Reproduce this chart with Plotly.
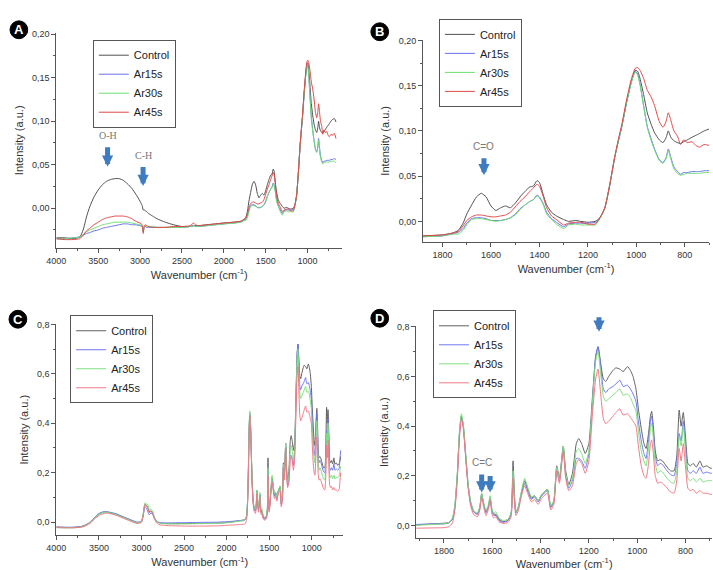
import plotly.graph_objects as go

# ---------------- DATA ----------------
series_names = ["Control", "Ar15s", "Ar30s", "Ar45s"]
colors_ab = ["#505050", "#6a70ee", "#6ede6e", "#e04848"]
colors_cd = ["#606060", "#7078ee", "#7fe07f", "#ef7a88"]

# Panels A/B : wavenumber (cm-1)
wn_ab_hi = [4000, 3900, 3800, 3720, 3680, 3640, 3600, 3550, 3500, 3450,
            3400, 3350, 3300, 3250, 3200, 3150, 3100, 3050, 3000, 2975,
            2962, 2950, 2935, 2920, 2900, 2850, 2800, 2700, 2600, 2500,
            2400, 2360, 2340, 2300, 2200, 2100, 2000]
ctrl_ab_hi = [-0.034, -0.034, -0.035, -0.033, -0.025, -0.010, 0.002, 0.013, 0.021, 0.027,
              0.031, 0.033, 0.034, 0.034, 0.032, 0.028, 0.023, 0.016, 0.008, 0.003,
              -0.002, -0.002, -0.003, -0.004, -0.006, -0.009, -0.012, -0.016, -0.019, -0.021,
              -0.021, -0.020, -0.020, -0.020, -0.019, -0.018, -0.017]
ar15_ab_hi = [-0.035, -0.035, -0.034, -0.033, -0.031, -0.029, -0.028, -0.026, -0.025, -0.023,
              -0.022, -0.021, -0.020, -0.019, -0.018, -0.018, -0.019, -0.019, -0.020, -0.021,
              -0.027, -0.022, -0.021, -0.022, -0.022, -0.022, -0.022, -0.022, -0.022, -0.022,
              -0.021, -0.020, -0.021, -0.021, -0.020, -0.019, -0.018]
ar30_ab_hi = [-0.035, -0.035, -0.034, -0.033, -0.030, -0.027, -0.025, -0.023, -0.021, -0.019,
              -0.018, -0.017, -0.016, -0.016, -0.016, -0.016, -0.017, -0.018, -0.019, -0.020,
              -0.027, -0.021, -0.020, -0.021, -0.021, -0.021, -0.022, -0.022, -0.022, -0.022,
              -0.021, -0.020, -0.021, -0.021, -0.020, -0.019, -0.018]
ar45_ab_hi = [-0.035, -0.036, -0.036, -0.035, -0.031, -0.026, -0.023, -0.019, -0.016, -0.013,
              -0.011, -0.010, -0.009, -0.009, -0.009, -0.010, -0.012, -0.015, -0.017, -0.019,
              -0.029, -0.020, -0.019, -0.020, -0.021, -0.022, -0.022, -0.022, -0.021, -0.021,
              -0.020, -0.017, -0.019, -0.020, -0.019, -0.018, -0.017]

wn_ab_lo = [1880, 1800, 1760, 1735, 1715, 1700, 1680, 1660, 1640, 1620,
            1600, 1580, 1560, 1540, 1520, 1500, 1480, 1460, 1440, 1425,
            1410, 1400, 1385, 1370, 1350, 1330, 1300, 1280, 1250, 1230,
            1200, 1170, 1150, 1130, 1110, 1090, 1075, 1060, 1040, 1020,
            1005, 995, 985, 970, 955, 940, 925, 905, 890, 878,
            868, 858, 845, 830, 818, 805, 790, 770, 755, 740,
            720, 700, 680, 660]
ctrl_ab_lo = [-0.016, -0.015, -0.013, -0.010, -0.002, 0.008, 0.018, 0.027, 0.031, 0.027,
              0.017, 0.012, 0.015, 0.017, 0.015, 0.020, 0.027, 0.033, 0.038, 0.039,
              0.045, 0.043, 0.030, 0.018, 0.010, 0.006, 0.002, 0.000, 0.001, 0.000,
              -0.001, 0.000, 0.004, 0.015, 0.040, 0.070, 0.088, 0.105, 0.132, 0.155,
              0.167, 0.166, 0.158, 0.140, 0.120, 0.108, 0.098, 0.090, 0.087, 0.092,
              0.100, 0.093, 0.089, 0.087, 0.086, 0.088, 0.090, 0.093, 0.095, 0.097,
              0.100, 0.102, 0.103, 0.099]
ar15_ab_lo = [-0.017, -0.016, -0.014, -0.012, -0.008, -0.002, 0.003, 0.004, 0.004, 0.003,
              0.001, 0.001, 0.001, 0.002, 0.004, 0.008, 0.014, 0.018, 0.022, 0.024,
              0.029, 0.027, 0.020, 0.010, 0.003, -0.001, -0.006, -0.003, -0.002, -0.002,
              -0.002, -0.001, 0.004, 0.015, 0.040, 0.070, 0.088, 0.105, 0.132, 0.155,
              0.166, 0.163, 0.152, 0.128, 0.105, 0.092, 0.080, 0.068, 0.065, 0.070,
              0.080, 0.071, 0.060, 0.055, 0.052, 0.054, 0.054, 0.055, 0.055, 0.055,
              0.056, 0.056, 0.057, 0.056]
ar30_ab_lo = [-0.017, -0.016, -0.014, -0.014, -0.010, -0.004, 0.002, 0.003, 0.003, 0.002,
              0.001, 0.000, 0.001, 0.002, 0.004, 0.007, 0.013, 0.018, 0.022, 0.024,
              0.028, 0.026, 0.019, 0.008, 0.002, -0.003, -0.008, -0.004, -0.003, -0.004,
              -0.004, -0.004, 0.003, 0.015, 0.040, 0.070, 0.088, 0.105, 0.132, 0.154,
              0.165, 0.162, 0.151, 0.127, 0.104, 0.090, 0.079, 0.067, 0.064, 0.069,
              0.078, 0.069, 0.058, 0.053, 0.051, 0.052, 0.053, 0.053, 0.053, 0.053,
              0.054, 0.054, 0.054, 0.052]
ar45_ab_lo = [-0.016, -0.015, -0.013, -0.011, -0.005, 0.001, 0.005, 0.007, 0.007, 0.006,
              0.005, 0.005, 0.006, 0.007, 0.010, 0.016, 0.022, 0.027, 0.033, 0.037,
              0.041, 0.039, 0.028, 0.015, 0.006, 0.002, -0.004, -0.002, -0.001, -0.001,
              -0.003, -0.003, 0.004, 0.015, 0.040, 0.070, 0.090, 0.107, 0.135, 0.158,
              0.169, 0.170, 0.167, 0.158, 0.145, 0.138, 0.128, 0.110, 0.104, 0.110,
              0.120, 0.112, 0.100, 0.094, 0.085, 0.090, 0.087, 0.088, 0.084, 0.082,
              0.085, 0.084, 0.086, 0.080]

# Panels C/D : wavenumber (cm-1)
wn_cd_hi = [4000, 3900, 3800, 3700, 3650, 3600, 3550, 3500, 3450, 3420,
            3380, 3300, 3200, 3100, 3050, 3000, 2980, 2960, 2945, 2925,
            2910, 2890, 2870, 2850, 2820, 2780, 2700, 2500, 2300, 2100,
            1950]
ctrl_cd_hi = [-0.020, -0.021, -0.021, -0.017, -0.010, 0.000, 0.018, 0.033, 0.040, 0.041,
              0.039, 0.032, 0.018, 0.004, -0.002, 0.003, 0.030, 0.072, 0.068, 0.060,
              0.042, 0.045, 0.040, 0.020, 0.003, -0.004, -0.006, -0.006, -0.005, -0.004,
              0.000]
ar15_cd_hi = [-0.020, -0.021, -0.021, -0.018, -0.011, 0.000, 0.019, 0.035, 0.042, 0.043,
              0.041, 0.034, 0.020, 0.006, 0.000, 0.003, 0.025, 0.062, 0.058, 0.042,
              0.030, 0.036, 0.032, 0.016, 0.003, -0.002, -0.003, -0.002, -0.001, 0.000,
              0.003]
ar30_cd_hi = [-0.022, -0.023, -0.023, -0.019, -0.012, -0.001, 0.017, 0.032, 0.039, 0.040,
              0.038, 0.031, 0.017, 0.003, -0.003, 0.003, 0.032, 0.078, 0.074, 0.070,
              0.050, 0.052, 0.045, 0.022, 0.003, -0.005, -0.007, -0.007, -0.006, -0.005,
              -0.001]
ar45_cd_hi = [-0.022, -0.023, -0.023, -0.020, -0.014, -0.004, 0.013, 0.027, 0.034, 0.036,
              0.035, 0.028, 0.014, 0.000, -0.006, -0.001, 0.027, 0.070, 0.066, 0.055,
              0.038, 0.042, 0.036, 0.015, -0.004, -0.011, -0.014, -0.016, -0.016, -0.015,
              -0.012]

wn_cd_lo = [1850, 1800, 1780, 1765, 1755, 1745, 1736, 1728, 1720, 1710,
            1700, 1690, 1678, 1662, 1652, 1644, 1636, 1626, 1616, 1609,
            1601, 1594, 1585, 1572, 1555, 1535, 1522, 1514, 1508, 1502,
            1492, 1480, 1466, 1452, 1438, 1425, 1410, 1398, 1385, 1371,
            1358, 1345, 1333, 1322, 1306, 1296, 1283, 1268, 1252, 1242,
            1230, 1215, 1200, 1185, 1172, 1162, 1152, 1140, 1130, 1118,
            1100, 1088, 1072, 1058, 1040, 1028, 1017, 1005, 995, 983,
            972, 963, 953, 945, 940, 933, 925, 915, 905, 895,
            880, 862, 847, 836, 826, 818, 809, 800, 790, 780,
            768, 755, 740, 728, 712, 695, 680, 668, 660]
ctrl_cd_lo = [0.006, 0.009, 0.012, 0.025, 0.075, 0.20, 0.37, 0.44, 0.40, 0.28,
              0.16, 0.095, 0.06, 0.045, 0.07, 0.128, 0.09, 0.055, 0.075, 0.113,
              0.06, 0.045, 0.045, 0.025, 0.015, 0.02, 0.05, 0.26, 0.12, 0.055,
              0.075, 0.13, 0.18, 0.145, 0.11, 0.12, 0.10, 0.12, 0.135, 0.145,
              0.075, 0.10, 0.24, 0.19, 0.32, 0.22, 0.165, 0.21, 0.33, 0.35,
              0.33, 0.29, 0.33, 0.52, 0.68, 0.72, 0.66, 0.59, 0.58, 0.60,
              0.625, 0.635, 0.63, 0.62, 0.64, 0.625, 0.60, 0.55, 0.47, 0.39,
              0.33, 0.31, 0.37, 0.44, 0.46, 0.40, 0.30, 0.26, 0.265, 0.26,
              0.24, 0.22, 0.22, 0.28, 0.465, 0.40, 0.455, 0.36, 0.25, 0.24,
              0.25, 0.235, 0.26, 0.235, 0.24, 0.23, 0.235, 0.25, 0.265]
ar15_cd_lo = [0.006, 0.006, 0.010, 0.025, 0.075, 0.20, 0.37, 0.44, 0.40, 0.28,
              0.16, 0.09, 0.055, 0.045, 0.07, 0.125, 0.085, 0.05, 0.075, 0.11,
              0.055, 0.04, 0.04, 0.02, 0.012, 0.02, 0.045, 0.21, 0.10, 0.05,
              0.07, 0.125, 0.17, 0.135, 0.105, 0.115, 0.095, 0.115, 0.13, 0.14,
              0.072, 0.095, 0.23, 0.18, 0.31, 0.20, 0.15, 0.18, 0.27, 0.27,
              0.26, 0.23, 0.29, 0.50, 0.68, 0.72, 0.65, 0.55, 0.535, 0.55,
              0.56, 0.57, 0.585, 0.56, 0.565, 0.55, 0.53, 0.50, 0.42, 0.34,
              0.29, 0.27, 0.34, 0.42, 0.44, 0.38, 0.28, 0.24, 0.25, 0.245,
              0.225, 0.205, 0.20, 0.25, 0.37, 0.34, 0.42, 0.33, 0.22, 0.21,
              0.22, 0.21, 0.235, 0.21, 0.215, 0.21, 0.215, 0.26, 0.29]
ar30_cd_lo = [0.004, 0.007, 0.012, 0.030, 0.085, 0.21, 0.38, 0.45, 0.41, 0.29,
              0.17, 0.10, 0.06, 0.05, 0.075, 0.13, 0.09, 0.06, 0.085, 0.12,
              0.065, 0.05, 0.055, 0.03, 0.02, 0.025, 0.05, 0.22, 0.11, 0.055,
              0.075, 0.135, 0.19, 0.15, 0.115, 0.12, 0.10, 0.12, 0.135, 0.145,
              0.078, 0.10, 0.235, 0.185, 0.32, 0.21, 0.16, 0.19, 0.30, 0.31,
              0.29, 0.25, 0.30, 0.50, 0.66, 0.70, 0.62, 0.52, 0.50, 0.51,
              0.525, 0.535, 0.55, 0.525, 0.53, 0.515, 0.49, 0.46, 0.38, 0.30,
              0.26, 0.24, 0.31, 0.39, 0.41, 0.35, 0.25, 0.21, 0.22, 0.215,
              0.195, 0.175, 0.17, 0.22, 0.36, 0.32, 0.40, 0.30, 0.19, 0.18,
              0.19, 0.175, 0.19, 0.175, 0.18, 0.18, 0.185, 0.21, 0.225]
ar45_cd_lo = [-0.010, -0.009, -0.005, 0.010, 0.060, 0.18, 0.35, 0.43, 0.39, 0.27,
              0.15, 0.08, 0.045, 0.035, 0.06, 0.115, 0.075, 0.04, 0.065, 0.10,
              0.045, 0.03, 0.035, 0.015, 0.008, 0.012, 0.035, 0.19, 0.09, 0.04,
              0.06, 0.115, 0.16, 0.125, 0.095, 0.105, 0.085, 0.105, 0.12, 0.13,
              0.062, 0.085, 0.22, 0.17, 0.30, 0.19, 0.14, 0.16, 0.25, 0.265,
              0.25, 0.21, 0.26, 0.45, 0.59, 0.63, 0.54, 0.43, 0.41, 0.42,
              0.44, 0.455, 0.47, 0.445, 0.45, 0.435, 0.42, 0.40, 0.32, 0.24,
              0.20, 0.19, 0.25, 0.33, 0.345, 0.29, 0.20, 0.17, 0.175, 0.17,
              0.155, 0.135, 0.13, 0.18, 0.31, 0.26, 0.33, 0.24, 0.15, 0.14,
              0.145, 0.13, 0.14, 0.13, 0.13, 0.125, 0.13, 0.17, 0.20]

# Tick labels
ticks_wn_full = [4000, 3500, 3000, 2500, 2000, 1500, 1000]
ticks_wn_zoom = [1800, 1600, 1400, 1200, 1000, 800]
ticks_int_ab = [0.00, 0.05, 0.10, 0.15, 0.20]
ticklabels_int_ab = ["0,00", "0,05", "0,10", "0,15", "0,20"]
ticks_int_cd = [0.0, 0.2, 0.4, 0.6, 0.8]
ticklabels_int_cd = ["0,0", "0,2", "0,4", "0,6", "0,8"]

# --------------- BUILD ----------------
wn_ab = wn_ab_hi + wn_ab_lo
ab_series = [ctrl_ab_hi + ctrl_ab_lo, ar15_ab_hi + ar15_ab_lo,
             ar30_ab_hi + ar30_ab_lo, ar45_ab_hi + ar45_ab_lo]
wn_cd = wn_cd_hi + wn_cd_lo
cd_series = [ctrl_cd_hi + ctrl_cd_lo, ar15_cd_hi + ar15_cd_lo,
             ar30_cd_hi + ar30_cd_lo, ar45_cd_hi + ar45_cd_lo]
for s in ab_series:
    assert len(s) == len(wn_ab)
for s in cd_series:
    assert len(s) == len(wn_cd)

W, H = 713, 570
FONT = "Liberation Sans, Arial, sans-serif"
SERIF = "Liberation Serif, Times New Roman, serif"


def px_x(a, b):
    return [a / W, b / W]


def px_y(top, bottom):
    return [1 - bottom / H, 1 - top / H]


panels = [
    dict(xa="x", ya="y", leg="legend", wn=wn_ab, ys=ab_series, cols=colors_ab),
    dict(xa="x2", ya="y2", leg="legend2", wn=wn_ab, ys=ab_series, cols=colors_ab),
    dict(xa="x3", ya="y3", leg="legend3", wn=wn_cd, ys=cd_series, cols=colors_cd),
    dict(xa="x4", ya="y4", leg="legend4", wn=wn_cd, ys=cd_series, cols=colors_cd),
]

fig = go.Figure()
for p in panels:
    for name, col, ys in zip(series_names, p["cols"], p["ys"]):
        fig.add_trace(go.Scatter(
            x=p["wn"], y=ys, name=name, mode="lines",
            line=dict(color=col, width=1, shape="spline", smoothing=0.5),
            xaxis=p["xa"], yaxis=p["ya"], legend=p["leg"],
        ))

axis_common = dict(
    showline=True, linecolor="#555", linewidth=1, showgrid=False, zeroline=False,
    ticks="outside", ticklen=4, tickcolor="#555", tickwidth=1,
    tickfont=dict(family=FONT, size=9, color="#333"),
    title_font=dict(family=FONT, size=11, color="#333"),
)
xtitle = "Wavenumber (cm<sup>-1</sup>)"
ytitle = "Intensity (a.u.)"

layout = dict(
    width=W, height=H, margin=dict(l=0, r=0, t=0, b=0),
    paper_bgcolor="white", plot_bgcolor="white",
    font=dict(family=FONT, color="#333"),
)

xcfg = [
    dict(dom=px_x(47, 337), rng=[4000, 585], tv=ticks_wn_full, dt=250, anchor="y"),
    dict(dom=px_x(419, 709), rng=[1880, 700], tv=ticks_wn_zoom, dt=100, anchor="y2"),
    dict(dom=px_x(47, 338), rng=[4000, 630], tv=ticks_wn_full, dt=250, anchor="y3"),
    dict(dom=px_x(412, 712), rng=[1915, 690], tv=ticks_wn_zoom, dt=100, anchor="y4"),
]
ycfg = [
    dict(dom=px_y(28, 245), rng=[-0.0455, 0.2015], tv=ticks_int_ab, tt=ticklabels_int_ab, dt=0.025, anchor="x"),
    dict(dom=px_y(35, 239), rng=[-0.0227, 0.2008], tv=ticks_int_ab, tt=ticklabels_int_ab, dt=0.025, anchor="x2"),
    dict(dom=px_y(322, 535), rng=[-0.0533, 0.801], tv=ticks_int_cd, tt=ticklabels_int_cd, dt=0.1, anchor="x3"),
    dict(dom=px_y(324, 538), rng=[-0.0518, 0.803], tv=ticks_int_cd, tt=ticklabels_int_cd, dt=0.1, anchor="x4"),
]
for i, (xc, yc) in enumerate(zip(xcfg, ycfg)):
    suf = "" if i == 0 else str(i + 1)
    layout["xaxis" + suf] = dict(
        axis_common, domain=xc["dom"], range=xc["rng"], anchor=xc["anchor"],
        tickmode="array", tickvals=xc["tv"], ticktext=[str(v) for v in xc["tv"]],
        minor=dict(ticks="outside", ticklen=2, tickcolor="#555", dtick=xc["dt"], tick0=0),
        title=dict(text=xtitle, standoff=6),
    )
    layout["yaxis" + suf] = dict(
        axis_common, domain=yc["dom"], range=yc["rng"], anchor=yc["anchor"],
        tickmode="array", tickvals=yc["tv"], ticktext=yc["tt"],
        minor=dict(ticks="outside", ticklen=2, tickcolor="#555", dtick=yc["dt"], tick0=0),
        title=dict(text=ytitle, standoff=6),
    )

# legend boxes (left, top in px)
legend_pos = [(84, 35), (435, 14), (61, 313), (429, 308)]
for i, (lx, ly) in enumerate(legend_pos):
    key = "legend" if i == 0 else "legend" + str(i + 1)
    layout[key] = dict(
        x=lx / W, y=1 - ly / H, xanchor="left", yanchor="top",
        bgcolor="white", bordercolor="#555", borderwidth=1,
        font=dict(family=FONT, size=11, color="#222"),
        itemwidth=30, tracegroupgap=0,
    )

# panel letters
shapes = []
annotations = []
letters = [("A", 9, 25), ("B", 375, 27), ("C", 8, 317), ("D", 375, 316)]
for t, cx, cy in letters:
    r = 9
    shapes.append(dict(type="circle", xref="paper", yref="paper", layer="below",
                       x0=(cx - r) / W, x1=(cx + r) / W,
                       y0=1 - (cy + r) / H, y1=1 - (cy - r) / H,
                       fillcolor="black", line=dict(color="black", width=1)))
    annotations.append(dict(text="<b>%s</b>" % t, x=cx / W, y=1 - cy / H,
                            xref="paper", yref="paper", showarrow=False,
                            xanchor="center", yanchor="middle",
                            font=dict(family=FONT, size=13, color="white")))

ARROW_COL = "#3f7cbf"
# labelled arrows: (xref, yref, x_tip, y_tip, label offset px, text, font)
labelled_arrows = [
    ("x", "y", 3388, 0.0475, -31.6, "O-H", SERIF),
    ("x", "y", 2964, 0.0254, -31.0, "C-H", SERIF),
    ("x2", "y2", 1629, 0.051, -29.0, "C=O", FONT),
    ("x4", "y4", 1644, 0.133, -30.0, "C=C", FONT),
]
for xr, yr, x, y, ay, t, fam in labelled_arrows:
    annotations.append(dict(xref=xr, yref=yr, x=x, y=y, text=t, showarrow=True,
                            ax=0, ay=ay, startstandoff=5,
                            arrowcolor=ARROW_COL, arrowwidth=5,
                            arrowhead=2, arrowsize=0.45,
                            font=dict(family=fam, size=10, color="#777")))
plain_arrows = [
    ("x4", "y4", 1609, 0.133, -18),
    ("x4", "y4", 1158, 0.78, -16),
]
for xr, yr, x, y, ay in plain_arrows:
    annotations.append(dict(xref=xr, yref=yr, x=x, y=y, text="", showarrow=True,
                            ax=0, ay=ay, arrowcolor=ARROW_COL, arrowwidth=5,
                            arrowhead=2, arrowsize=0.45))

layout["shapes"] = shapes
layout["annotations"] = annotations
fig.update_layout(**layout)
fig.write_html("out.html")
